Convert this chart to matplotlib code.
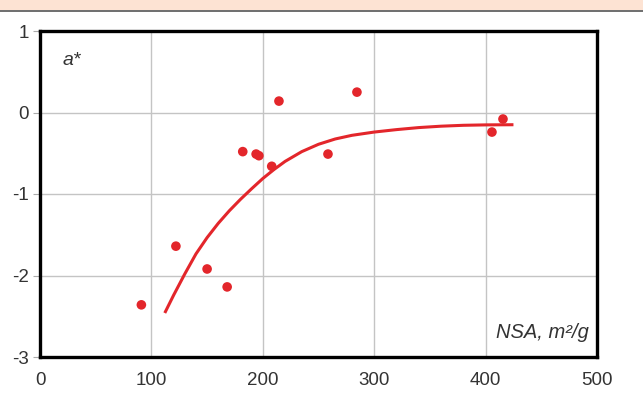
import numpy as np
import matplotlib.pyplot as plt
from matplotlib.lines import Line2D
from matplotlib.patches import Rectangle

# puntos medidos
nsa = [91, 122, 150, 168, 182, 194, 196.5, 208, 214.5, 258.5, 284.5, 405.7, 415.6]
a_star = [-2.36, -1.64, -1.92, -2.14, -0.48, -0.51, -0.53, -0.66, 0.14, -0.51, 0.25, -0.24, -0.08]

# curva de tendencia
curva_x = [112, 120, 130, 140, 150, 160, 170, 180, 190, 200, 210, 220, 235, 250,
           265, 280, 300, 320, 340, 360, 380, 400, 425]
curva_y = [-2.46, -2.24, -1.98, -1.735, -1.535, -1.36, -1.205, -1.065, -0.935, -0.81,
           -0.70, -0.60, -0.48, -0.39, -0.325, -0.28, -0.24, -0.21, -0.185, -0.168,
           -0.157, -0.152, -0.15]

xticks = [0, 100, 200, 300, 400, 500]
yticks = [-3, -2, -1, 0, 1]

plt.rcParams['font.family'] = ['Liberation Sans', 'DejaVu Sans']
plt.rcParams['axes.unicode_minus'] = False

fig = plt.figure(figsize=(6.43, 3.96), dpi=100)
fig.patch.set_facecolor('white')

# banda superior
fig.patches.append(Rectangle((0, 1 - 10 / 396), 1, 10 / 396, transform=fig.transFigure,
                             facecolor='#fde3d3', edgecolor='none', zorder=0))
fig.lines.append(Line2D([0, 1], [1 - 11 / 396, 1 - 11 / 396], transform=fig.transFigure,
                        color='#555555', lw=1.2))

ax = fig.add_axes([40 / 643, 1 - 357 / 396, (597 - 40) / 643, (357 - 31) / 396])

ax.plot(curva_x, curva_y, color='#e3262b', lw=2.2, solid_capstyle='butt',
        solid_joinstyle='round', zorder=3)
ax.scatter(nsa, a_star, s=48, color='#e3262b', edgecolors='none', zorder=4)

ax.set_xlim(0, 500)
ax.set_ylim(-3, 1)
ax.set_xticks(xticks)
ax.set_yticks(yticks)
ax.grid(True, color='#c4c4c4', lw=1)
ax.set_axisbelow(True)

for s in ax.spines.values():
    s.set_linewidth(2.4)
    s.set_color('black')

ax.tick_params(axis='x', length=0, pad=11, labelsize=13.5, labelcolor='#333333')
ax.tick_params(axis='y', length=5, width=0.8, color='#aaaaaa', pad=3, labelsize=13.5,
               labelcolor='#333333')

ax.text(0.04, 0.91, 'a*', transform=ax.transAxes, fontsize=14, style='italic',
        color='#333333', ha='left', va='center')
ax.text(0.985, 0.045, 'NSA, m²/g', transform=ax.transAxes, fontsize=14.5, style='italic',
        color='#333333', ha='right', va='bottom')

fig.savefig('out.png', dpi=100)
